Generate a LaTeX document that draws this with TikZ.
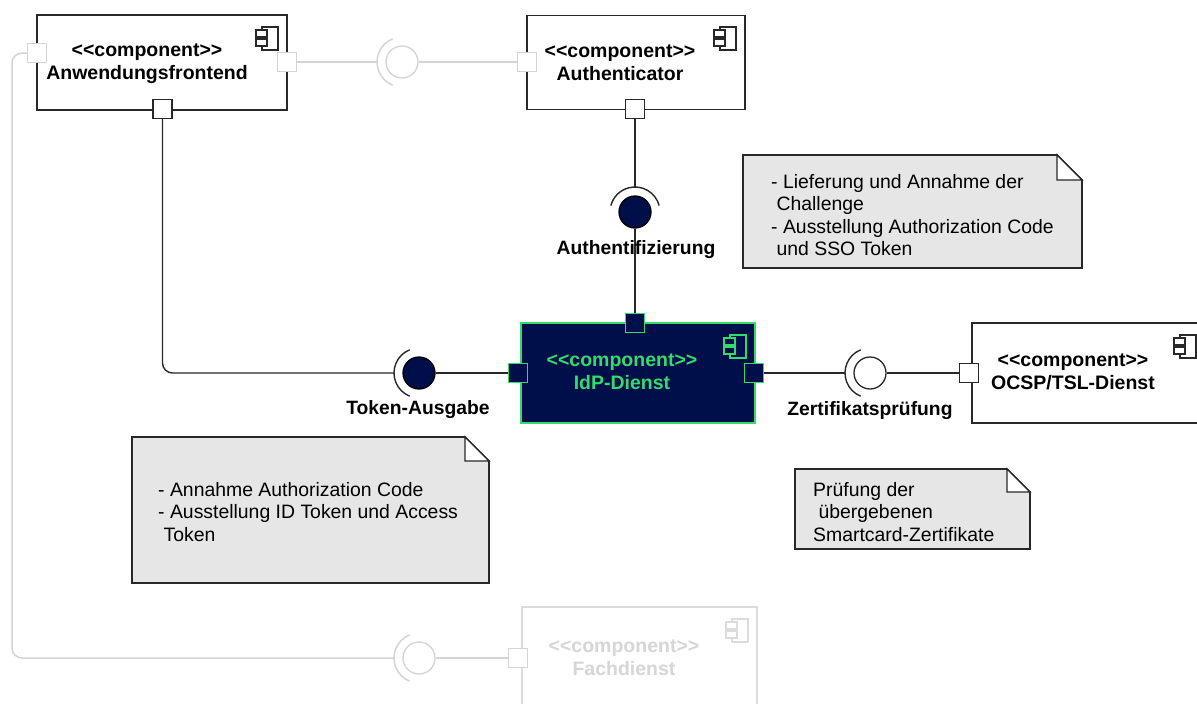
\documentclass[tikz,border=0pt]{standalone}
\usepackage{fontspec}
\setmainfont{Liberation Sans}
\definecolor{navy}{RGB}{0,14,74}
\definecolor{idpgreen}{RGB}{52,218,108}
\definecolor{lgray}{RGB}{212,212,212}
\definecolor{fgray}{RGB}{220,220,220}
\definecolor{ftext}{RGB}{214,214,214}
\definecolor{notefill}{RGB}{230,230,230}
\definecolor{dline}{RGB}{40,40,40}
\newcommand{\cmp}{<\kern0pt<component>\kern0pt>}
\tikzset{
  pics/cicon/.style 2 args={code={
    \draw[line width=1.3pt, draw=#1, fill=#2] (-25,12) rectangle (-9,35);
    \draw[line width=1.3pt, draw=#1, fill=#2] (-31,15) rectangle (-20,22) (-31,24) rectangle (-20,31);
  }},
  comp/.style={draw=dline, line width=1.7pt, fill=white, rectangle, inner sep=0pt},
  idpbox/.style={draw=idpgreen, line width=1.7pt, fill=navy, rectangle, inner sep=0pt},
  fachbox/.style={draw=fgray, line width=1.7pt, fill=white, rectangle, inner sep=0pt},
  port/.style={rectangle, draw=dline, fill=white, line width=1.4pt, minimum size=19pt, inner sep=0pt},
  gport/.style={port, draw=lgray},
  nport/.style={port, draw=idpgreen, fill=navy},
  ball/.style={circle, minimum size=32pt, inner sep=0pt, draw=black, line width=1.3pt, fill=navy},
  wball/.style={ball, fill=white, draw=dline},
  gball/.style={ball, fill=white, draw=lgray},
  dl/.style={draw=dline, line width=1.4pt},
  gl/.style={draw=lgray, line width=1.5pt},
  clabel/.style={align=center, font=\fontsize{19.5}{23}\selectfont\bfseries, inner sep=0pt},
  ilabel/.style={font=\fontsize{19.3}{23}\selectfont\bfseries, inner sep=0pt},
  note/.style={draw=dline, line width=1.7pt, fill=notefill, line join=miter},
  ntext/.style={align=left, font=\fontsize{19.4}{22.4}\selectfont, inner sep=0pt, anchor=north west},
}
\begin{document}
\begin{tikzpicture}[x=1pt,y=-1pt]
\useasboundingbox (0,0) rectangle (1197,704);
\clip (0,0) rectangle (1197,704);

% ---------- components ----------
\node[comp, minimum width=250pt, minimum height=95pt] (af) at (162,62.5) {};
\pic at (287,15) {cicon={dline}{white}};
\node[clabel] (afT) at (147,64) {\cmp\\Anwendungsfrontend};

\node[comp, minimum width=218pt, minimum height=94pt] (auth) at (636,62.5) {};
\pic at (745,15) {cicon={dline}{white}};
\node[clabel] (authT) at (620,63) {\cmp\\Authenticator};

\node[idpbox, minimum width=234pt, minimum height=100pt] (idp) at (638,373) {};
\pic at (755,323) {cicon={idpgreen}{navy}};
\node[clabel, text=idpgreen] (idpT) at (622,372) {\cmp\\IdP-Dienst};

\node[comp, minimum width=233pt, minimum height=100pt] (ocsp) at (1088.5,373) {};
\pic at (1205,323) {cicon={dline}{white}};
\node[clabel] (ocspT) at (1073,372) {\cmp\\OCSP/TSL-Dienst};

\node[fachbox, minimum width=235pt, minimum height=120pt] (fach) at (639.5,667) {};
\pic at (757,607) {cicon={fgray}{white}};
\node[clabel, text=ftext] (fachT) at (624,658) {\cmp\\Fachdienst};

% ---------- ports ----------
\node[gport] (afL) at (37,53) {};
\node[gport] (afR) at (287,62) {};
\node[port]  (afB) at (162.5,109) {};
\node[gport] (authL) at (527,62) {};
\node[port]  (authB) at (635,109) {};
\node[nport] (idpT2) at (635,323) {};
\node[nport] (idpL) at (518,373) {};
\node[nport] (idpR) at (754,373) {};
\node[port]  (ocspL) at (969,373) {};
\node[gport] (fachL) at (518,658) {};

% ---------- balls and sockets ----------
\node[gball] (b1) at (402,62) {};
\node[ball]  (b2) at (635,212) {};
\node[ball]  (b3) at (419,373) {};
\node[wball] (b4) at (870,373) {};
\node[gball] (b5) at (419,658) {};

\draw[gl] (b1.center) ++(112:25pt) arc[start angle=112, end angle=248, radius=25pt];
\draw[dl] (b2.center) ++(15:25pt) arc[start angle=15, end angle=165, radius=25pt];
\draw[dl] (b3.center) ++(112:25pt) arc[start angle=112, end angle=248, radius=25pt];
\draw[dl] (b4.center) ++(112:25pt) arc[start angle=112, end angle=248, radius=25pt];
\draw[gl] (b5.center) ++(112:25pt) arc[start angle=112, end angle=248, radius=25pt];

\coordinate (s1) at (377,62);
\coordinate (s2) at (635,187);
\coordinate (s3) at (394,373);
\coordinate (s4) at (845,373);
\coordinate (s5) at (394,658);
\coordinate (bend) at (12,658);

% ---------- connectors ----------
\draw[gl] (afR.east) -- (s1);
\draw[gl] (b1.east) -- (authL.west);
\draw[dl] (authB.south) -- (s2);
\draw[dl] (b2.south) -- (idpT2.north);
\draw[dl, rounded corners=10pt] (afB.south) |- (s3);
\draw[dl] (b3.east) -- (idpL.west);
\draw[dl] (idpR.east) -- (s4);
\draw[dl] (b4.east) -- (ocspL.west);
\draw[gl, rounded corners=10pt] (afL.west) -| (bend) -- (s5);
\draw[gl] (b5.east) -- (fachL.west);

% ---------- interface labels ----------
\node[ilabel] (lAuth) at (636,250) {Authentifizierung};
\node[ilabel] (lTok) at (418,410) {Token-Ausgabe};
\node[ilabel] (lZert) at (870,411) {Zertifikatsprüfung};

% ---------- notes ----------
\draw[note] (743,155) -- (1057,155) -- (1082,180) -- (1082,268) -- (743,268) -- cycle;
\draw[dl, fill=white, line join=miter] (1057,155) -- (1057,180) -- (1082,180) -- cycle;
\node[ntext] (n1) at (771,174) {- Lieferung und Annahme der\\\ Challenge\\- Ausstellung Authorization Code\\\ und SSO Token};

\draw[note] (132,437) -- (465,437) -- (489,461) -- (489,583) -- (132,583) -- cycle;
\draw[dl, fill=white, line join=miter] (465,437) -- (465,461) -- (489,461) -- cycle;
\node[ntext] (n2) at (158,482) {- Annahme Authorization Code\\- Ausstellung ID Token und Access\\\ Token};

\draw[note] (795,469) -- (1007,469) -- (1030,492) -- (1030,549) -- (795,549) -- cycle;
\draw[dl, fill=white, line join=miter] (1007,469) -- (1007,492) -- (1030,492) -- cycle;
\node[ntext] (n3) at (813,482) {Prüfung der\\\ übergebenen\\Smartcard-Zertifikate};
\end{tikzpicture}
\end{document}
